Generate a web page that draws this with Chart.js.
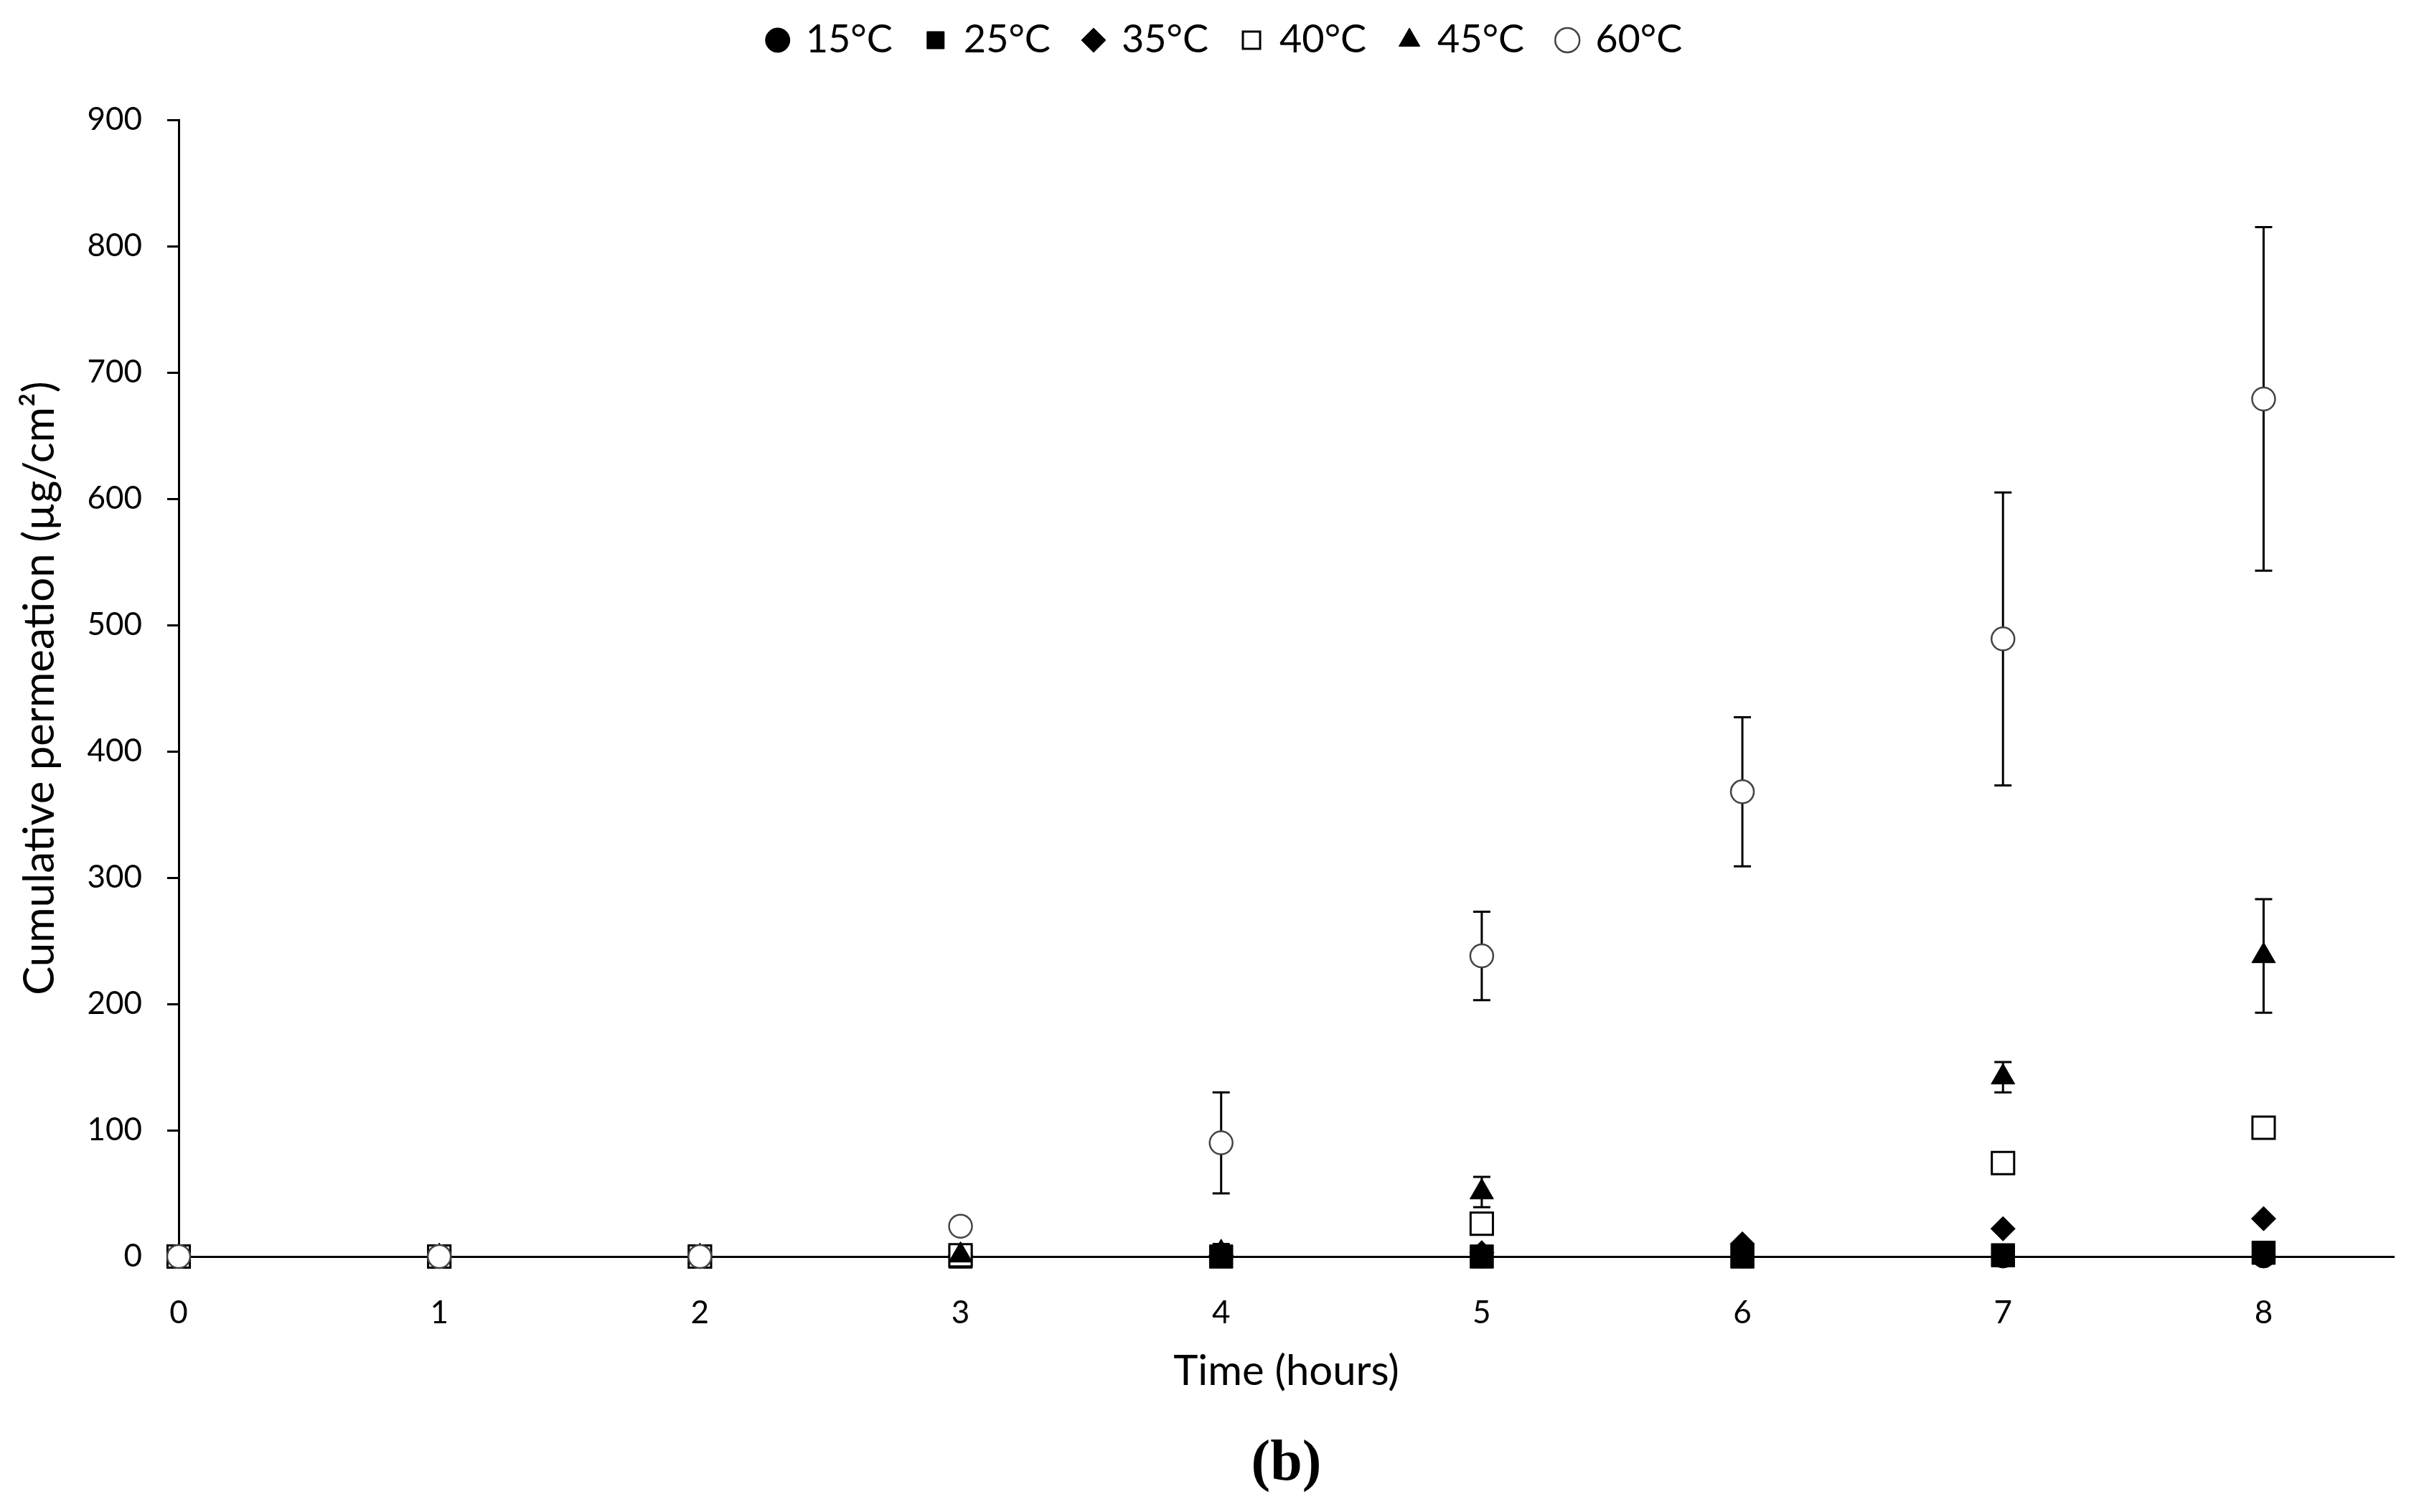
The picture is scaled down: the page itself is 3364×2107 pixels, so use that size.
<!DOCTYPE html>
<html>
<head>
<meta charset="utf-8">
<script src="https://cdn.jsdelivr.net/npm/chart.js@4.4.0/dist/chart.umd.min.js"></script>
<style>
    html, body { margin: 0; padding: 0; background: #fff; }
    #wrap { width: 3364px; height: 2107px; }
</style>
</head>
<body>
<div id="wrap"><canvas id="chart-permeacao" width="3364" height="2107"></canvas></div>
<script>
const horas = [0, 1, 2, 3, 4, 5, 6, 7, 8];
const temperaturas = ['15°C', '25°C', '35°C', '40°C', '45°C', '60°C'];

const perm15 = [0, 0, 0, 0, 0, 0, 0, 0, 0];
const perm25 = [0, 0, 0, 0, 0, 0, 0, 1, 3];
const perm35 = [0, 0, 0, 1, 1, 3, 10, 22, 30];
const perm40 = [0, 0, 0, 1, null, 26, null, 74, 102];
const perm45 = [0, 0, 0, 1, 3, 51, null, 142, 238];
const perm60 = [0, 0, 0, 24, 90, 238, 368, 489, 679];

const erro45 = [0, 0, 0, 0, 7, 12, 0, 12, 45];
const erro60 = [0, 0, 0, 3, 40, 35, 59, 116, 136];

const ticksY = [0, 100, 200, 300, 400, 500, 600, 700, 800, 900];

const pontos = valores => horas.map((h, i) => ({ x: h, y: valores[i] }));

const barrasErro = {
    id: 'barrasErro',
    beforeDatasetsDraw(chart) {
        const { ctx, scales: { x, y } } = chart;
        ctx.save();
        ctx.strokeStyle = '#000';
        ctx.lineWidth = 3;
        chart.data.datasets.forEach(ds => {
            if (!ds.erros) return;
            ds.data.forEach((p, i) => {
                const e = ds.erros[i];
                if (p.y === null || !e) return;
                const px = x.getPixelForValue(p.x);
                const topo = y.getPixelForValue(p.y + e);
                const base = y.getPixelForValue(p.y - e);
                ctx.beginPath();
                ctx.moveTo(px, topo);
                ctx.lineTo(px, base);
                ctx.moveTo(px - 12, topo);
                ctx.lineTo(px + 12, topo);
                ctx.moveTo(px - 12, base);
                ctx.lineTo(px + 12, base);
                ctx.stroke();
            });
        });
        ctx.restore();
    }
};

// legenda mais alta e um pouco deslocada para a direita, como no original
const ajusteLegenda = {
    id: 'ajusteLegenda',
    beforeInit(chart) {
        const fitOriginal = chart.legend.fit;
        chart.legend.fit = function () {
            fitOriginal.call(this);
            this.height = 186;
        };
    },
    afterLayout(chart) {
        chart.legend.left += 40;
        chart.legend.right += 40;
    }
};

new Chart(document.getElementById('chart-permeacao'), {
    type: 'scatter',
    data: {
        datasets: [
            {
                label: temperaturas[0],
                data: pontos(perm15),
                pointStyle: 'circle',
                pointRadius: 16,
                backgroundColor: '#000',
                borderColor: '#000',
                borderWidth: 1,
                clip: false,
                order: 5
            },
            {
                label: temperaturas[1],
                data: pontos(perm25),
                pointStyle: 'rect',
                pointRadius: 23,
                backgroundColor: '#000',
                borderColor: '#000',
                borderWidth: 1,
                clip: false,
                order: 4
            },
            {
                label: temperaturas[2],
                data: pontos(perm35),
                pointStyle: 'rectRot',
                pointRadius: 17,
                backgroundColor: '#000',
                borderColor: '#000',
                borderWidth: 1,
                clip: false,
                order: 3
            },
            {
                label: temperaturas[3],
                data: pontos(perm40),
                pointStyle: 'rect',
                pointRadius: 22,
                backgroundColor: '#fff',
                borderColor: '#000',
                borderWidth: 3,
                clip: false,
                order: 2
            },
            {
                label: temperaturas[4],
                data: pontos(perm45),
                erros: erro45,
                pointStyle: 'triangle',
                pointRadius: 19,
                backgroundColor: '#000',
                borderColor: '#000',
                borderWidth: 1,
                clip: false,
                order: 1
            },
            {
                label: temperaturas[5],
                data: pontos(perm60),
                erros: erro60,
                pointStyle: 'circle',
                pointRadius: 16,
                backgroundColor: '#fff',
                borderColor: '#444',
                borderWidth: 2.5,
                clip: false,
                order: 0
            }
        ]
    },
    options: {
        responsive: false,
        animation: false,
        layout: {
            padding: { top: -19, right: 28, bottom: 0, left: 0 }
        },
        plugins: {
            legend: {
                display: true,
                position: 'top',
                labels: {
                    usePointStyle: true,
                    boxWidth: 24,
                    boxHeight: 24,
                    padding: 48,
                    color: '#000',
                    sort: (a, b) => a.datasetIndex - b.datasetIndex,
                    font: { family: 'Lato', size: 54 }
                }
            },
            title: {
                display: true,
                position: 'bottom',
                fullSize: false,
                text: '(b)',
                color: '#000',
                padding: { top: 42, bottom: 18 },
                font: { family: 'Liberation Serif', size: 80, weight: 'bold' }
            },
            tooltip: { enabled: false }
        },
        scales: {
            x: {
                type: 'linear',
                min: 0,
                max: 8.5,
                afterBuildTicks(scale) {
                    scale.ticks = horas.map(v => ({ value: v }));
                },
                afterFit(scale) {
                    scale.height = 200;
                },
                ticks: {
                    color: '#000',
                    padding: 44,
                    font: { family: 'Lato', size: 44 }
                },
                grid: { display: false },
                border: { display: true, color: '#000', width: 3 },
                title: {
                    display: true,
                    text: 'Time (hours)',
                    color: '#000',
                    padding: { top: 0, bottom: 5 },
                    font: { family: 'Lato', size: 58 }
                }
            },
            y: {
                min: 0,
                max: 900,
                afterBuildTicks(scale) {
                    scale.ticks = ticksY.map(v => ({ value: v }));
                },
                afterFit(scale) {
                    scale.width = 249;
                },
                ticks: {
                    color: '#000',
                    padding: 35,
                    font: { family: 'Lato', size: 44 }
                },
                grid: {
                    drawOnChartArea: false,
                    drawTicks: true,
                    tickLength: 16,
                    color: '#000',
                    lineWidth: 3
                },
                border: { display: true, color: '#000', width: 3 },
                title: {
                    display: true,
                    text: 'Cumulative permeation (µg/cm²)',
                    color: '#000',
                    padding: { top: 20, bottom: 0 },
                    font: { family: 'Lato', size: 60 }
                }
            }
        }
    },
    plugins: [barrasErro, ajusteLegenda]
});
</script>
</body>
</html>
